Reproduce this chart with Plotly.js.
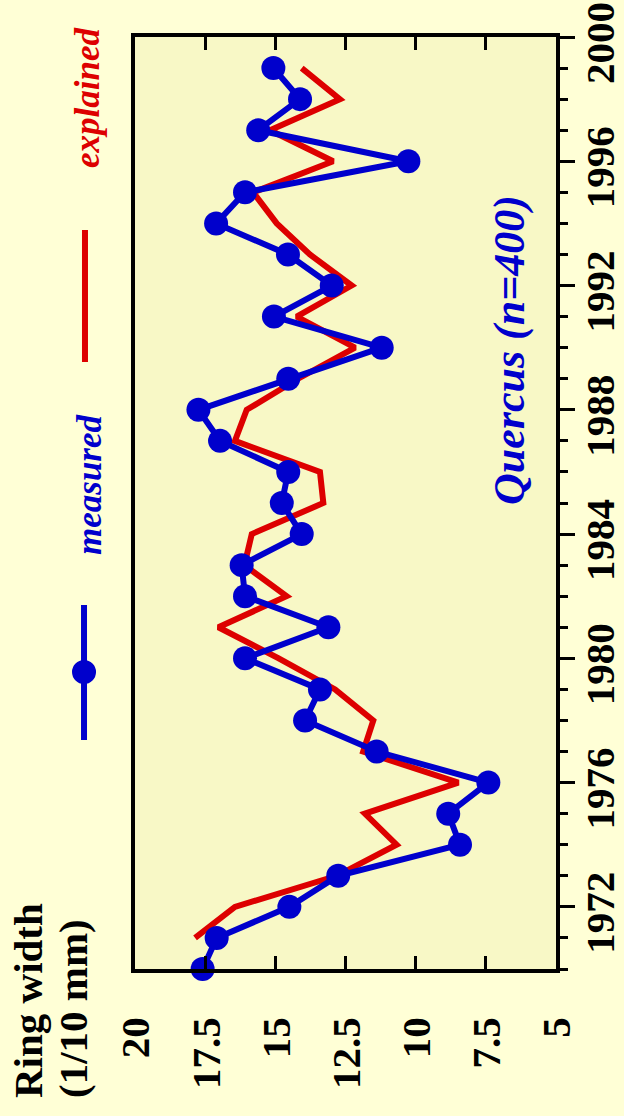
<!DOCTYPE html>
<html>
<head>
<meta charset="utf-8">
<script src="https://cdn.plot.ly/plotly-3.0.1.min.js"></script>
<style>
html,body{margin:0;padding:0;width:624px;height:1116px;overflow:hidden;background:#FFFFD6;}
#wrap{position:absolute;left:0;top:0;width:1116px;height:624px;transform-origin:0 0;transform:translateY(1116px) rotate(-90deg);}
</style>
</head>
<body>
<div id="wrap"></div>
<script>
// ---- data ----
const measuredYears = [1970,1971,1972,1973,1974,1975,1976,1977,1978,1979,1980,1981,1982,1983,1984,1985,1986,1987,1988,1989,1990,1991,1992,1993,1994,1995,1996,1997,1998,1999];
const measuredWidth = [17.59,17.09,14.5,12.76,8.42,8.84,7.41,11.39,13.94,13.41,16.08,13.11,16.08,16.2,14.06,14.77,14.54,16.97,17.74,14.54,11.21,15.05,12.99,14.55,17.11,16.08,10.26,15.61,14.12,15.07];
const explainedYears = [1971,1972,1973,1974,1975,1976,1977,1978,1979,1980,1981,1982,1983,1984,1985,1986,1987,1988,1989,1990,1991,1992,1993,1994,1995,1996,1997,1998,1999];
const explainedWidth = [17.86,16.44,12.81,10.68,11.81,8.48,11.87,11.51,12.87,14.88,17.03,14.6,16.1,15.84,13.29,13.41,16.44,16.02,14.19,12.16,14.24,12.28,13.77,14.95,15.79,12.94,15.19,12.7,14.06];
const widthTickVals = [5,7.5,10,12.5,15,17.5,20];
const widthTickText = ['5','7.5','10','12.5','15','17.5','20'];
const seriesNames = ['measured','explained'];
const chartLabel = 'Quercus (n=400)';
const yTitleLines = ['Ring width','(1/10 mm)'];

// ---- styles ----
const FONT = '"Liberation Serif","Times New Roman",serif';
const BLUE = '#0000CC';
const RED = '#DD0000';

const traces = [
  {
    x: explainedYears, y: explainedWidth, name: seriesNames[1],
    type: 'scatter', mode: 'lines',
    line: {color: RED, width: 6},
    cliponaxis: false
  },
  {
    x: measuredYears, y: measuredWidth, name: seriesNames[0],
    type: 'scatter', mode: 'lines+markers',
    line: {color: BLUE, width: 6},
    marker: {color: BLUE, size: 24, line: {width: 0}},
    cliponaxis: false
  }
];

const layout = {
  width: 1116, height: 624,
  margin: {l: 147, r: 37, t: 135, b: 68},
  paper_bgcolor: '#FFFFD6',
  plot_bgcolor: '#F8F8C6',
  showlegend: false,
  font: {family: FONT, color: '#000'},
  xaxis: {
    range: [1970, 2000],
    tickmode: 'linear', tick0: 1972, dtick: 4,
    ticks: 'outside', ticklen: 15, tickwidth: 3, tickcolor: '#000',
    minor: {tick0: 1970, dtick: 1, ticks: 'outside', ticklen: 8, tickwidth: 3, tickcolor: '#000', showgrid: false},
    showline: true, linewidth: 4, linecolor: '#000', mirror: true,
    showgrid: false, zeroline: false,
    tickfont: {family: FONT, size: 41, color: '#000', weight: 'bold'},
    ticklabelstandoff: -10,
    ticklabelshift: -6,
    ticklabeloverflow: 'allow'
  },
  yaxis: {
    range: [5, 20],
    tickmode: 'array', tickvals: widthTickVals, ticktext: widthTickText,
    ticks: 'inside', ticklen: 13, tickwidth: 3, tickcolor: '#000',
    showline: true, linewidth: 4, linecolor: '#000', mirror: 'ticks',
    showgrid: false, zeroline: false,
    tickfont: {family: FONT, size: 41, color: '#000', weight: 'bold'},
    ticklabelstandoff: 36
  },
  annotations: [
    {text: yTitleLines[0], xref: 'paper', yref: 'paper', x: -0.1406, y: 1.2542, xanchor: 'left', yanchor: 'middle', showarrow: false,
     font: {family: FONT, size: 41, color: '#000', weight: 'bold'}},
    {text: yTitleLines[1], xref: 'paper', yref: 'paper', x: -0.1406, y: 1.1473, xanchor: 'left', yanchor: 'middle', showarrow: false,
     font: {family: FONT, size: 41, color: '#000', weight: 'bold'}},
    {text: seriesNames[0], xref: 'paper', yref: 'paper', x: 0.4421, y: 1.1069, xanchor: 'left', yanchor: 'middle', showarrow: false,
     font: {family: FONT, size: 35, color: BLUE, weight: 'bold', style: 'italic'}},
    {text: seriesNames[1], xref: 'paper', yref: 'paper', x: 0.8573, y: 1.114, xanchor: 'left', yanchor: 'middle', showarrow: false,
     font: {family: FONT, size: 35, color: RED, weight: 'bold', style: 'italic'}},
    {text: chartLabel, xref: 'paper', yref: 'paper', x: 0.4957, y: 0.1116, xanchor: 'left', yanchor: 'middle', showarrow: false,
     font: {family: FONT, size: 44, color: BLUE, weight: 'bold', style: 'italic'}}
  ],
  shapes: [
    {type: 'line', xref: 'paper', yref: 'paper', x0: 0.2457, x1: 0.3906, y0: 1.1211, y1: 1.1211, line: {color: BLUE, width: 6}},
    {type: 'circle', xref: 'paper', yref: 'paper', xsizemode: 'pixel', ysizemode: 'pixel',
     xanchor: 0.3187, yanchor: 1.1211, x0: -12, x1: 12, y0: -12, y1: 12, fillcolor: BLUE, line: {width: 0}},
    {type: 'line', xref: 'paper', yref: 'paper', x0: 0.6513, x1: 0.7929, y0: 1.1188, y1: 1.1188, line: {color: RED, width: 6}}
  ]
};

Plotly.newPlot('wrap', traces, layout, {staticPlot: true, displayModeBar: false});
</script>
</body>
</html>
